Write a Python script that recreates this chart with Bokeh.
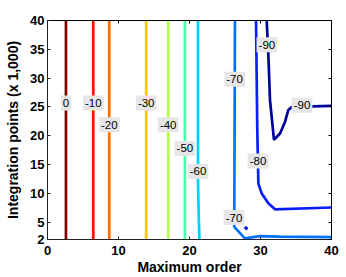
from bokeh.plotting import figure
from bokeh.models import Range1d, FixedTicker, LinearAxis, ColumnDataSource
from bokeh.core.properties import value
from bokeh.embed import file_html
from bokeh.resources import INLINE

# ---- data ----
levels = [0, -10, -20, -30, -40, -50, -60, -70, -80, -90]
x_ticks = [0, 10, 20, 30, 40]
y_ticks = [2, 5, 10, 15, 20, 25, 30, 35, 40]

c0_x = [2.6, 2.6]
c0_y = [2, 40]
c10_x = [6.45, 6.45]
c10_y = [2, 40]
c20_x = [8.7, 8.7]
c20_y = [2, 40]
c30_x = [13.9, 13.9]
c30_y = [2, 40]
c40_x = [17.0, 17.0]
c40_y = [2, 40]
c50_x = [19.35, 19.35]
c50_y = [2, 40]
c60_x = [21.2, 21.2, 21.3, 21.4]
c60_y = [40, 12, 6, 2]
c70_x = [26.4, 26.35, 26.3, 27.8, 29.9, 32.7, 40]
c70_y = [40, 20, 4.2, 2.2, 2.6, 2.5, 2.4]
c80_x = [29.37, 29.55, 29.7, 30.17, 31.1, 32.04, 40]
c80_y = [40, 21, 11.7, 10.0, 8.27, 7.23, 7.55]
c80b_x = [27.85, 28.05, 28.05, 27.85, 27.85]
c80b_y = [3.85, 3.85, 4.05, 4.05, 3.85]
c90_x = [30.87, 31.1, 31.34, 31.9, 32.75, 33.45, 33.9, 34.4, 37.4, 40]
c90_y = [40, 34.24, 26.15, 19.3, 20.39, 22.4, 24.42, 25.0, 25.1, 25.2]

label_x = [2.6, 6.45, 8.7, 13.9, 17.0, 19.35, 21.2, 26.35, 26.27, 29.65, 30.9, 35.85]
label_y = [25.7, 25.7, 21.9, 25.7, 21.9, 17.8, 13.8, 29.8, 5.8, 15.6, 35.8, 25.3]
label_text = ["0", "-10", "-20", "-30", "-40", "-50", "-60", "-70", "-70", "-80", "-90", "-90"]

# ---- style ----
palette = {0: "#800000", -10: "#ff1400", -20: "#ff6e00", -30: "#ffc800",
           -40: "#b4ff46", -50: "#50ffaa", -60: "#00d2ff", -70: "#0072ff",
           -80: "#0a1eff", -90: "#00009a"}

paths = [(c0_x, c0_y, 0), (c10_x, c10_y, -10), (c20_x, c20_y, -20),
         (c30_x, c30_y, -30), (c40_x, c40_y, -40), (c50_x, c50_y, -50),
         (c60_x, c60_y, -60), (c70_x, c70_y, -70), (c80_x, c80_y, -80),
         (c80b_x, c80b_y, -80), (c90_x, c90_y, -90)]

FONT = "Liberation Sans"

p = figure(width=346, height=277, output_backend="svg", toolbar_location=None,
           x_range=Range1d(0, 40), y_range=Range1d(2, 40),
           min_border_left=47, min_border_right=15, min_border_top=20,
           min_border_bottom=37)
p.grid.visible = False
p.outline_line_color = "black"
p.outline_line_width = 1

for xs, ys, lv in paths:
    p.line(xs, ys, line_color=palette[lv], line_width=2.7)

# label boxes sized from the text (approx glyph widths at 11.5px)
def box_w(t):
    return 4 + sum(3.9 if ch == "-" else 6.4 for ch in t)

src = ColumnDataSource(dict(x=label_x, y=label_y, text=label_text,
                            w=[box_w(t) for t in label_text]))
p.rect(x="x", y="y", width="w", height=15, width_units="screen",
       height_units="screen", source=src, fill_color="#e6e6e6",
       line_color=None)
p.text(x="x", y="y", text="text", source=src, text_font=value(FONT),
       text_font_size="11.5px", text_align="center", text_baseline="middle",
       text_color="black")

for ax in (p.xaxis[0], p.yaxis[0]):
    ax.major_tick_in = 3
    ax.major_tick_out = 0
    ax.minor_tick_line_color = None
    ax.axis_line_color = "#222222"
    ax.major_tick_line_color = "#222222"
    ax.major_label_text_font = FONT
    ax.major_label_text_font_style = "bold"
    ax.major_label_text_font_size = "13px"
    ax.major_label_text_color = "black"
    ax.axis_label_text_font = FONT
    ax.axis_label_text_font_style = "bold"
    ax.axis_label_text_font_size = "14px"
    ax.axis_label_text_color = "black"

p.xaxis[0].ticker = FixedTicker(ticks=x_ticks)
p.yaxis[0].ticker = FixedTicker(ticks=y_ticks)
p.xaxis[0].axis_label = "Maximum order"
p.yaxis[0].axis_label = "Integration points (x 1,000)"
p.xaxis[0].major_label_standoff = 6
p.xaxis[0].axis_label_standoff = 1
p.yaxis[0].major_label_standoff = 3
p.yaxis[0].axis_label_standoff = 6

top = LinearAxis(ticker=FixedTicker(ticks=x_ticks),
                 major_label_overrides={t: "" for t in x_ticks})
right = LinearAxis(ticker=FixedTicker(ticks=y_ticks),
                   major_label_overrides={t: "" for t in y_ticks})
for ax in (top, right):
    ax.major_tick_in = 3
    ax.major_tick_out = 0
    ax.minor_tick_line_color = None
    ax.major_label_standoff = 0
    ax.axis_line_color = "black"
p.add_layout(top, "above")
p.add_layout(right, "right")

open("out.html", "w").write(file_html(p, INLINE))
